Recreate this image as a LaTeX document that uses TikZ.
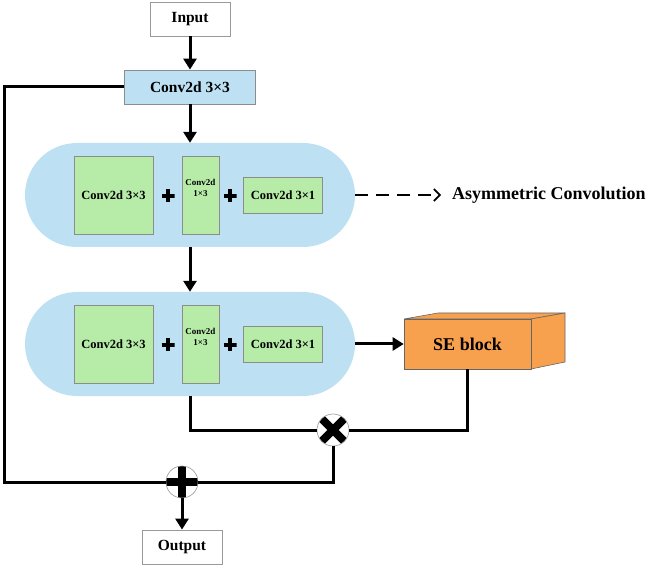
\documentclass[tikz,border=0pt]{standalone}
\usepackage{fontspec}
\setmainfont{Liberation Serif}
\usetikzlibrary{arrows.meta}
\definecolor{pillblue}{RGB}{189,225,243}
\definecolor{boxblue}{RGB}{189,225,243}
\definecolor{convgreen}{RGB}{182,236,168}
\definecolor{seorange}{RGB}{247,160,78}
\begin{document}
\begin{tikzpicture}[x=1pt,y=-1pt,
  txt/.style={font=\fontsize{15.5}{18}\selectfont\bfseries},
  plainbox/.style={draw=black!40, line width=0.8pt, fill=white, minimum width=80pt, minimum height=34pt, inner sep=0pt, txt},
  convbox/.style={draw=black!45, line width=0.8pt, fill=boxblue, minimum width=131pt, minimum height=34pt, inner sep=0pt, txt},
  pill/.style={fill=pillblue, rounded corners=52pt, minimum width=330pt, minimum height=104pt, inner sep=0pt},
  gbox/.style={draw=black!45, fill=convgreen, line width=0.6pt, inner sep=0pt, font=\fontsize{12.5}{14}\selectfont\bfseries},
  gsmall/.style={gbox, align=center, font=\fontsize{9}{11}\selectfont\bfseries},
  plusmark/.style={minimum size=13pt, inner sep=0pt, path picture={
      \draw[black, line width=4pt] (path picture bounding box.north) -- (path picture bounding box.south);
      \draw[black, line width=4pt] (path picture bounding box.west) -- (path picture bounding box.east);}},
  wire/.style={line width=3pt},
  arr/.style={wire, -{Triangle[length=11pt,width=13pt]}},
  dasharr/.style={line width=1.6pt, dash pattern=on 13pt off 8pt, -{Straight Barb[length=6pt,width=12pt,line width=1.6pt]}, shorten >=11pt},
  op/.style={circle, draw=black!40, line width=0.6pt, fill=white, minimum size=32pt, inner sep=0pt},
  opmul/.style={op, path picture={
      \draw[black, line width=8pt] ([xshift=-12pt,yshift=12pt]path picture bounding box.center) -- ([xshift=12pt,yshift=-12pt]path picture bounding box.center);
      \draw[black, line width=8pt] ([xshift=-12pt,yshift=-12pt]path picture bounding box.center) -- ([xshift=12pt,yshift=12pt]path picture bounding box.center);}},
  opadd/.style={op, path picture={
      \draw[black, line width=8pt] (path picture bounding box.north) -- (path picture bounding box.south);
      \draw[black, line width=8pt] (path picture bounding box.west) -- (path picture bounding box.east);}},
  sebord/.style={draw=black!60, line width=0.6pt, fill=seorange}
]
\useasboundingbox (0,0) rectangle (649,567);

% top
\node[plainbox] (in) at (190,19) {Input};
\node[convbox] (conv) at (190,87) {Conv2d 3×3};

% pills
\node[pill] (p1) at (190,195) {};
\node[pill] (p2) at (190,344) {};

% first asymmetric block
\node[gbox, minimum width=79pt, minimum height=78pt] (a1) at (113.5,195) {Conv2d 3×3};
\node[gsmall, minimum width=37pt, minimum height=78pt] (a2) at (200.5,195) {Conv2d\\1×3\\[3pt]};
\node[gbox, minimum width=79pt, minimum height=36pt] (a3) at (283,195) {Conv2d 3×1};
\node[plusmark] (pa1) at (168,196) {};
\node[plusmark] (pa2) at (230,196) {};

% second asymmetric block
\node[gbox, minimum width=79pt, minimum height=78pt] (b1) at (113.5,344) {Conv2d 3×3};
\node[gsmall, minimum width=37pt, minimum height=78pt] (b2) at (200.5,344) {Conv2d\\1×3\\[3pt]};
\node[gbox, minimum width=79pt, minimum height=36pt] (b3) at (283,344) {Conv2d 3×1};
\node[plusmark] (pb1) at (168,345) {};
\node[plusmark] (pb2) at (230,345) {};

% label
\node[anchor=west, inner sep=0pt, font=\fontsize{18}{21}\selectfont\bfseries] (asym) at (452,195) {Asymmetric Convolution};

% SE block
\draw[sebord] (404,319) -- ++(34,-6) -- ++(127,0) -- (531,319) -- cycle;
\draw[sebord] (531,319) -- ++(34,-6) -- ++(0,49) -- (531,369) -- cycle;
\node[sebord, minimum width=127pt, minimum height=50pt, inner sep=0pt, font=\fontsize{18}{21}\selectfont\bfseries] (se) at (467.5,344) {SE block};

% operators
\node[opmul] (mul) at (333,430) {};
\node[opadd] (add) at (182,482) {};

% output
\node[plainbox] (out) at (182,547) {Output};

\coordinate (lc) at (4,482);

% connectors
\draw[arr] (in) -- (conv);
\draw[arr] (conv) -- (p1);
\draw[arr] (p1) -- (p2);
\draw[arr] (p2.east) -- (se.west);
\draw[dasharr] (p1.east) -- (asym.west);
\draw[wire] (p2.south) |- (mul.west);
\draw[wire] (se.south) |- (mul.east);
\draw[wire] (mul.south) |- (add.east);
\draw[wire] (conv.west) -| (lc) -- (add.west);
\draw[arr] (add.south) -- (out.north);
\end{tikzpicture}
\end{document}
